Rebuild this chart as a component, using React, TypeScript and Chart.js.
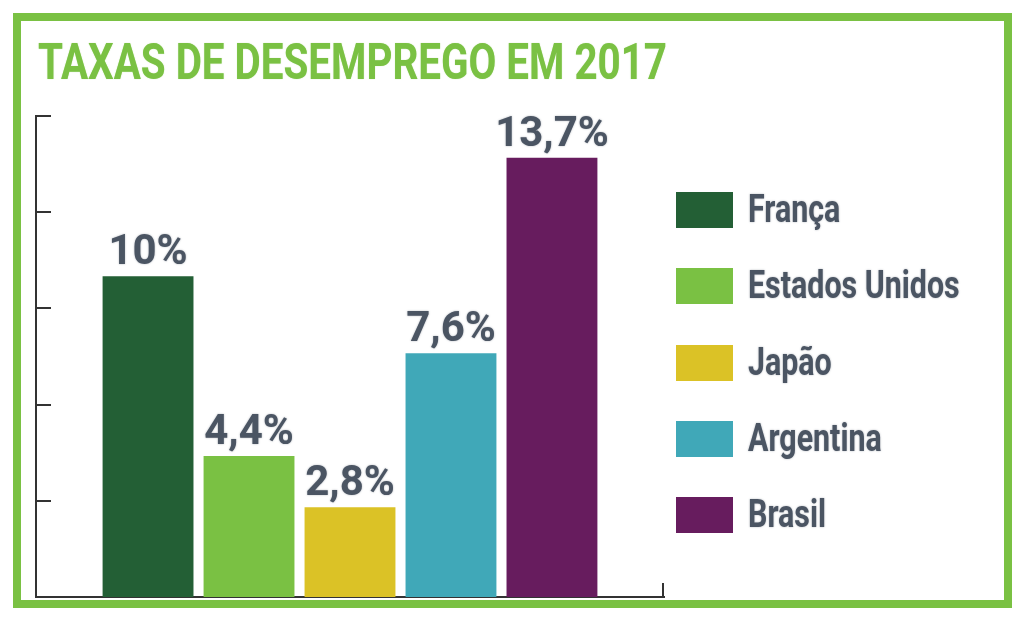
import React, { useEffect, useRef } from "react";
import { Chart, registerables } from "chart.js";

Chart.register(...registerables);

// ---- data ----
const TITLE = "TAXAS DE DESEMPREGO EM 2017";
const categories = ["2017"];
const countries = ["França", "Estados Unidos", "Japão", "Argentina", "Brasil"];
const rates = [10, 4.4, 2.8, 7.6, 13.7];
const colors = ["#235f35", "#7ac143", "#dbc226", "#40a8b8", "#671c5e"];
const yMin = 0;
const yMax = 15;
const yStep = 3;

// ---- styles ----
const GREEN = "#7ac143";
const TEXT = "#4b5563";
const AXIS = "#333333";
const FONT = "Roboto, 'Open Sans', 'DejaVu Sans', sans-serif";

const fmt = (v: number) => String(v).replace(".", ",") + "%";

function fillScaled(ctx: CanvasRenderingContext2D, text: string, x: number, y: number, sx: number) {
  ctx.save();
  ctx.translate(x, y);
  ctx.scale(sx, 1);
  ctx.fillText(text, 0, 0);
  ctx.restore();
}

const decorPlugin = {
  id: "decor",
  afterDraw(chart: any) {
    const { ctx, chartArea } = chart;
    const yScale = chart.scales.y;
    ctx.save();

    // inner tick marks on the y axis
    ctx.strokeStyle = AXIS;
    ctx.lineWidth = 2;
    yScale.ticks.forEach((t: any) => {
      const y = Math.round(yScale.getPixelForValue(t.value));
      ctx.beginPath();
      ctx.moveTo(chartArea.left, y);
      ctx.lineTo(chartArea.left + 15, y);
      ctx.stroke();
    });
    // small closing tick at right end of x axis
    ctx.beginPath();
    ctx.moveTo(chartArea.right - 1, chartArea.bottom);
    ctx.lineTo(chartArea.right - 1, chartArea.bottom - 14);
    ctx.stroke();

    // value labels
    ctx.fillStyle = TEXT;
    ctx.font = `bold 42px ${FONT}`;
    ctx.textAlign = "center";
    ctx.textBaseline = "alphabetic";
    ctx.shadowColor = "rgba(75,85,99,0.45)";
    ctx.shadowBlur = 2;
    chart.data.datasets.forEach((ds: any, i: number) => {
      const meta = chart.getDatasetMeta(i);
      meta.data.forEach((bar: any, j: number) => {
        const { x, y } = bar.getProps(["x", "y"], true);
        ctx.fillText(fmt(ds.data[j]), x, y - 12);
      });
    });

    // title
    ctx.shadowBlur = 1;
    ctx.shadowColor = "rgba(122,193,67,0.5)";
    ctx.fillStyle = GREEN;
    ctx.font = `bold 50px ${FONT}`;
    ctx.textAlign = "left";
    const tw = ctx.measureText(TITLE).width;
    fillScaled(ctx, TITLE, 38, 79, 629 / tw);

    // legend
    ctx.shadowColor = "rgba(75,85,99,0.45)";
    ctx.shadowBlur = 2;
    const lx = chartArea.right + 12;
    const top0 = 192;
    const gap = 76.3;
    chart.data.datasets.forEach((ds: any, i: number) => {
      const ty = top0 + i * gap;
      ctx.shadowBlur = 0;
      ctx.fillStyle = ds.backgroundColor;
      ctx.fillRect(lx, Math.round(ty), 57, 36);
      ctx.shadowBlur = 2;
      ctx.fillStyle = TEXT;
      ctx.font = `bold 38px ${FONT}`;
      fillScaled(ctx, ds.label, lx + 72, ty + 30, 0.8);
    });

    ctx.restore();
  },
};

export default function App() {
  const ref = useRef<HTMLCanvasElement>(null);

  useEffect(() => {
    if (!ref.current) return;
    const chart = new Chart(ref.current, {
      type: "bar",
      data: {
        labels: categories,
        datasets: countries.map((c, i) => ({
          label: c,
          data: [rates[i]],
          backgroundColor: colors[i],
          borderWidth: 0,
          categoryPercentage: 0.804,
          barPercentage: 0.9,
        })),
      },
      options: {
        responsive: false,
        animation: false,
        layout: { padding: { left: 36, top: 116, right: 360, bottom: 23 } },
        plugins: {
          legend: { display: false },
          title: { display: false },
          tooltip: { enabled: false },
        },
        scales: {
          x: {
            display: true,
            grid: { display: false, drawTicks: false },
            ticks: { display: false },
            border: { display: true, color: AXIS, width: 2 },
          },
          y: {
            min: yMin,
            max: yMax,
            ticks: { display: false, stepSize: yStep },
            grid: { display: false, drawTicks: false },
            border: { display: true, color: AXIS, width: 2 },
          },
        },
      },
      plugins: [decorPlugin],
    });
    return () => chart.destroy();
  }, []);

  return (
    <div style={{ position: "absolute", left: 0, top: 0, width: 1024, height: 620, background: "#fff" }}>
      <div
        style={{
          position: "absolute",
          left: 13,
          top: 13,
          width: 999,
          height: 595,
          boxSizing: "border-box",
          border: `8px solid ${GREEN}`,
        }}
      />
      <canvas ref={ref} width={1024} height={620} style={{ position: "absolute", left: 0, top: 0 }} />
    </div>
  );
}
